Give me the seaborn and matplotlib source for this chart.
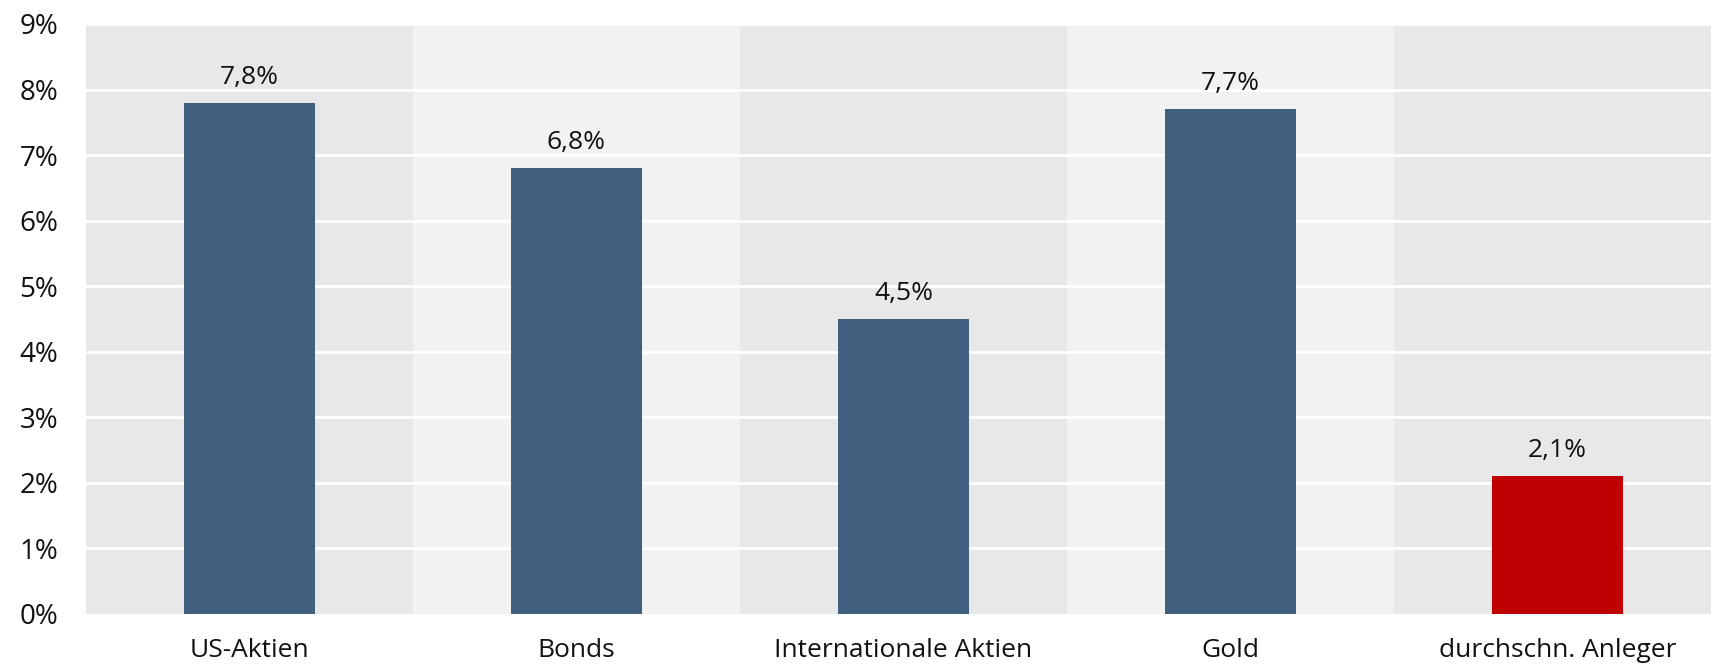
import matplotlib
matplotlib.use("Agg")
import matplotlib.pyplot as plt
import seaborn as sns
import pandas as pd

categories = ["US-Aktien", "Bonds", "Internationale Aktien", "Gold", "durchschn. Anleger"]
returns = [7.8, 6.8, 4.5, 7.7, 2.1]
labels = ["7,8%", "6,8%", "4,5%", "7,7%", "2,1%"]
groups = ["asset", "asset", "asset", "asset", "investor"]
yticks = [0, 1, 2, 3, 4, 5, 6, 7, 8, 9]

sns.set_style("white")
plt.rcParams['font.family'] = ['Open Sans', 'DejaVu Sans']

df = pd.DataFrame({'cat': categories, 'val': returns, 'grp': groups})

fig = plt.figure(figsize=(17.11, 6.66), dpi=100)
ax = fig.add_axes([86/1711, 1 - 614/666, 1 - 86/1711, (614 - 24)/666])

# alternating background bands
for i in range(len(categories)):
    ax.axvspan(i - 0.5, i + 0.5, color='#e8e8e8' if i % 2 == 0 else '#f2f2f2', zorder=0, lw=0)

sns.barplot(data=df, x='cat', y='val', hue='grp', palette={'asset': '#41607f', 'investor': '#c00000'},
            width=0.4, dodge=False, legend=False, ax=ax, zorder=3, saturation=1, linewidth=0)

for i, (v, t) in enumerate(zip(returns, labels)):
    ax.text(i, v + 0.2, t, ha='center', va='bottom', fontsize=19, color='#111111', zorder=4)

ax.set_ylim(0, 9)
ax.set_xlim(-0.5, 4.47)
ax.set_yticks(yticks)
ax.set_yticklabels([f"{y}%" for y in yticks])
for y in yticks[1:]:
    ax.axhline(y, color='white', lw=2, zorder=1)
ax.set_xlabel("")
ax.set_ylabel("")
for s in ax.spines.values():
    s.set_visible(False)
ax.tick_params(axis='y', length=0, pad=20, labelsize=20, labelcolor='#111111')
ax.tick_params(axis='x', length=0, pad=17, labelsize=19, labelcolor='#111111')

fig.savefig("out.png", dpi=100)
